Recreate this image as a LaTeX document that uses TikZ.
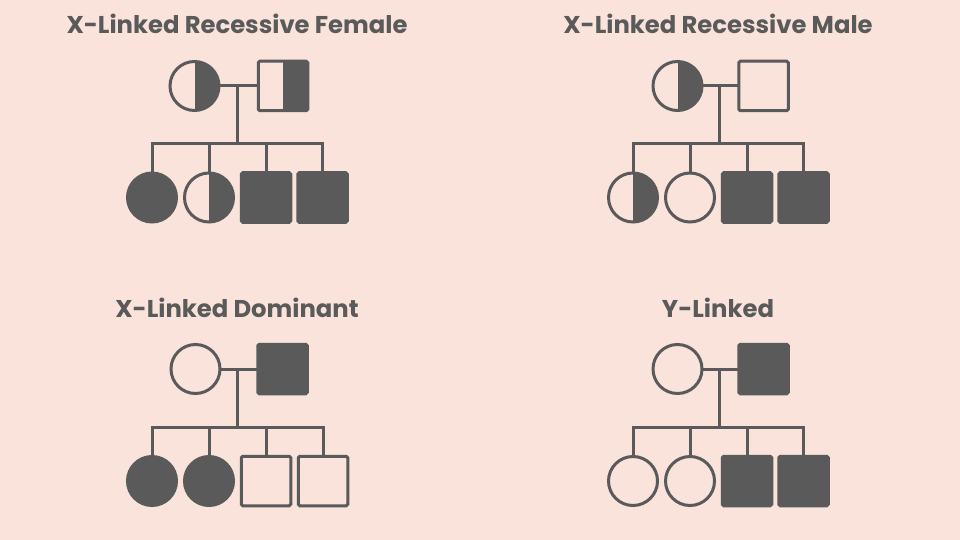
\documentclass[tikz,border=0pt]{standalone}
\usepackage{fontspec}
\setmainfont{Poppins}
\definecolor{bg}{HTML}{F9E3DA}
\definecolor{ink}{HTML}{5A5A5A}
\tikzset{
  every node/.style={inner sep=0pt, outer sep=0pt},
  title/.style={text=ink, font=\fontsize{24.3}{28}\selectfont\bfseries, anchor=center},
  fem/.style={circle, draw=ink, line width=3pt, minimum size=49pt},
  mal/.style={rectangle, draw=ink, line width=3pt, minimum size=49.5pt, rounded corners=1.5pt},
  aff/.style={fill=ink},
  carr/.style={path picture={\fill[ink] (path picture bounding box.north) rectangle (path picture bounding box.south east);}},
  link/.style={draw=ink, line width=3pt}
}
\begin{document}
\begin{tikzpicture}[x=1pt, y=-1pt]
\fill[bg] (0,0) rectangle (960,540);
\useasboundingbox (0,0) rectangle (960,540);

% ---------- Top left: X-Linked Recessive Female
\node[title] (ta) at (237,24) {X-Linked Recessive Female};
\node[fem, carr] (amo) at (194.5,86) {};
\node[mal, carr] (afa) at (283,86) {};
\coordinate (am) at (237,86);
\coordinate (as) at (237,144);
\node[fem, aff] (ac1) at (152,197.5) {};
\node[fem, carr] (ac2) at (209,197.5) {};
\node[mal, aff] (ac3) at (266,197.5) {};
\node[mal, aff] (ac4) at (322.5,197.5) {};
\draw[link] (amo) -- (afa);
\draw[link] (am) -- (as);
\draw[link] (ac1.north) |- (ac4.north |- as) -- (ac4.north);
\draw[link] (ac2.north) -- (ac2.north |- as);
\draw[link] (ac3.north) -- (ac3.north |- as);

% ---------- Top right: X-Linked Recessive Male
\node[title] (tb) at (718,24) {X-Linked Recessive Male};
\node[fem, carr] (bmo) at (677.5,86) {};
\node[mal] (bfa) at (763.5,86) {};
\coordinate (bm) at (719,86);
\coordinate (bs) at (719,144);
\node[fem, carr] (bc1) at (633,197.5) {};
\node[fem] (bc2) at (690,197.5) {};
\node[mal, aff] (bc3) at (747,197.5) {};
\node[mal, aff] (bc4) at (803.5,197.5) {};
\draw[link] (bmo) -- (bfa);
\draw[link] (bm) -- (bs);
\draw[link] (bc1.north) |- (bc4.north |- bs) -- (bc4.north);
\draw[link] (bc2.north) -- (bc2.north |- bs);
\draw[link] (bc3.north) -- (bc3.north |- bs);

% ---------- Bottom left: X-Linked Dominant
\node[title] (tc) at (237,308) {X-Linked Dominant};
\node[fem] (cmo) at (195.5,369) {};
\node[mal, aff] (cfa) at (282.5,369) {};
\coordinate (cm) at (237,369);
\coordinate (cs) at (237,427);
\node[fem, aff] (cc1) at (152,481) {};
\node[fem, aff] (cc2) at (209,481) {};
\node[mal] (cc3) at (266,481) {};
\node[mal] (cc4) at (323,481) {};
\draw[link] (cmo) -- (cfa);
\draw[link] (cm) -- (cs);
\draw[link] (cc1.north) |- (cc4.north |- cs) -- (cc4.north);
\draw[link] (cc2.north) -- (cc2.north |- cs);
\draw[link] (cc3.north) -- (cc3.north |- cs);

% ---------- Bottom right: Y-Linked
\node[title] (td) at (718,308) {Y-Linked};
\node[fem] (dmo) at (677.5,369) {};
\node[mal, aff] (dfa) at (763.5,369) {};
\coordinate (dm) at (719,369);
\coordinate (ds) at (719,427);
\node[fem] (dc1) at (633,481) {};
\node[fem] (dc2) at (690,481) {};
\node[mal, aff] (dc3) at (747,481) {};
\node[mal, aff] (dc4) at (803.5,481) {};
\draw[link] (dmo) -- (dfa);
\draw[link] (dm) -- (ds);
\draw[link] (dc1.north) |- (dc4.north |- ds) -- (dc4.north);
\draw[link] (dc2.north) -- (dc2.north |- ds);
\draw[link] (dc3.north) -- (dc3.north |- ds);
\end{tikzpicture}
\end{document}
